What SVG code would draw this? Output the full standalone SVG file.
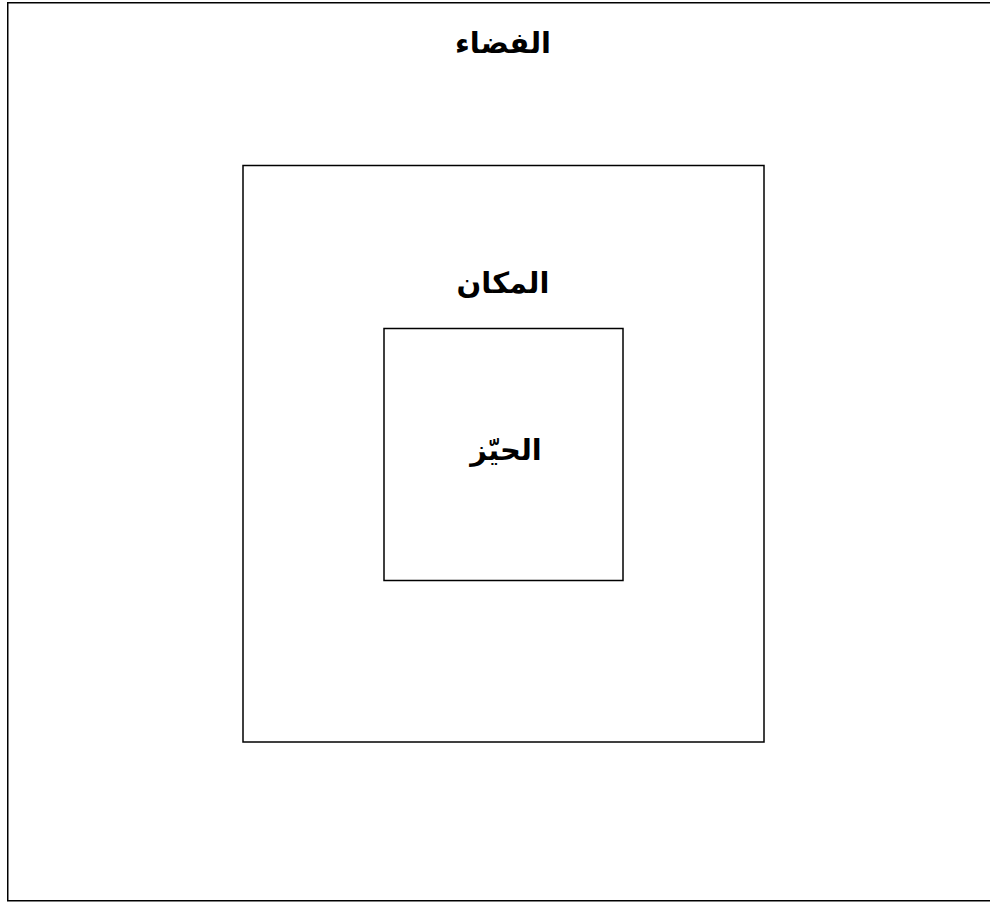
<svg xmlns="http://www.w3.org/2000/svg" width="990" height="902" viewBox="0 0 990 902">
<style>
.box{fill:none;stroke:#000;stroke-width:1.5}
.lbl{font-family:"DejaVu Sans","Noto Sans",sans-serif;font-weight:bold;font-size:29px;fill:#000;text-anchor:middle}
</style>
<rect width="990" height="902" fill="#fff"/>
<g id="space">
<rect class="box" x="7.75" y="2.75" width="1000" height="898"/>
<text class="lbl" x="503" y="53" direction="rtl">الفضاء</text>
</g>
<g id="place">
<rect class="box" x="243" y="165.5" width="521" height="576.5"/>
<text class="lbl" x="503" y="293" direction="rtl">المكان</text>
</g>
<g id="hayyiz">
<rect class="box" x="384" y="328.5" width="239" height="252"/>
<text class="lbl" x="506" y="460" direction="rtl">الحيّز</text>
</g>
<g id="connectors"/>
</svg>
